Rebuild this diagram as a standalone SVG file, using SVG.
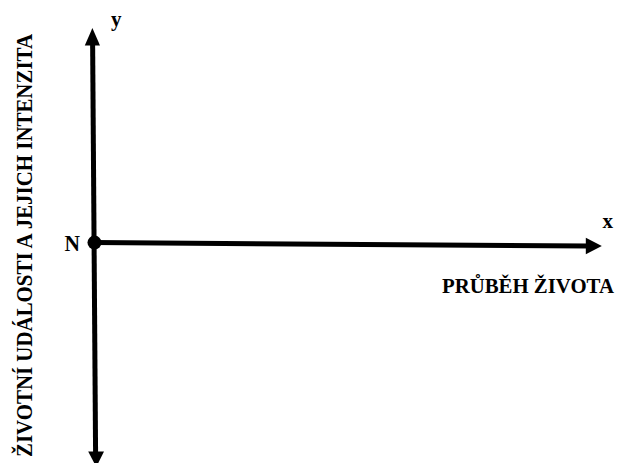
<svg xmlns="http://www.w3.org/2000/svg" width="621" height="463" viewBox="0 0 621 463">
  <style>
    .lbl { font-family: "Liberation Serif", "Times New Roman", serif; font-weight: bold; fill: #000; }
    .big { font-size: 22.5px; }
    .small { font-size: 21px; }
    .axis { stroke: #000; stroke-width: 5; fill: none; }
    .head { fill: #000; stroke: none; }
  </style>
  <rect width="621" height="463" fill="#fff"/>
  <g id="connectors">
    <line class="axis" x1="92.6" y1="40" x2="95.6" y2="454"/>
    <polygon class="head" points="92.4,28 84.8,45.5 100,45.5"/>
    <polygon class="head" points="88.2,451.5 104,451.5 96.3,467"/>
    <line class="axis" x1="94" y1="242.5" x2="588" y2="246"/>
    <polygon class="head" points="601.8,246 585.8,237.8 585.8,254.2"/>
  </g>
  <g id="origin">
    <circle cx="94.5" cy="242.6" r="7"/>
    <text class="lbl big" x="64.5" y="251" textLength="15.5" lengthAdjust="spacingAndGlyphs">N</text>
  </g>
  <g id="label-y">
    <text class="lbl small" x="111" y="25.5">y</text>
  </g>
  <g id="label-x">
    <text class="lbl small" x="602.5" y="228">x</text>
  </g>
  <g id="label-x-title">
    <text class="lbl" style="font-size:20.8px" x="442" y="293">PRŮBĚH ŽIVOTA</text>
  </g>
  <g id="label-y-title">
    <text class="lbl big" transform="translate(32,457) rotate(-90)" textLength="423" lengthAdjust="spacingAndGlyphs">ŽIVOTNÍ UDÁLOSTI A JEJICH INTENZITA</text>
  </g>
</svg>
